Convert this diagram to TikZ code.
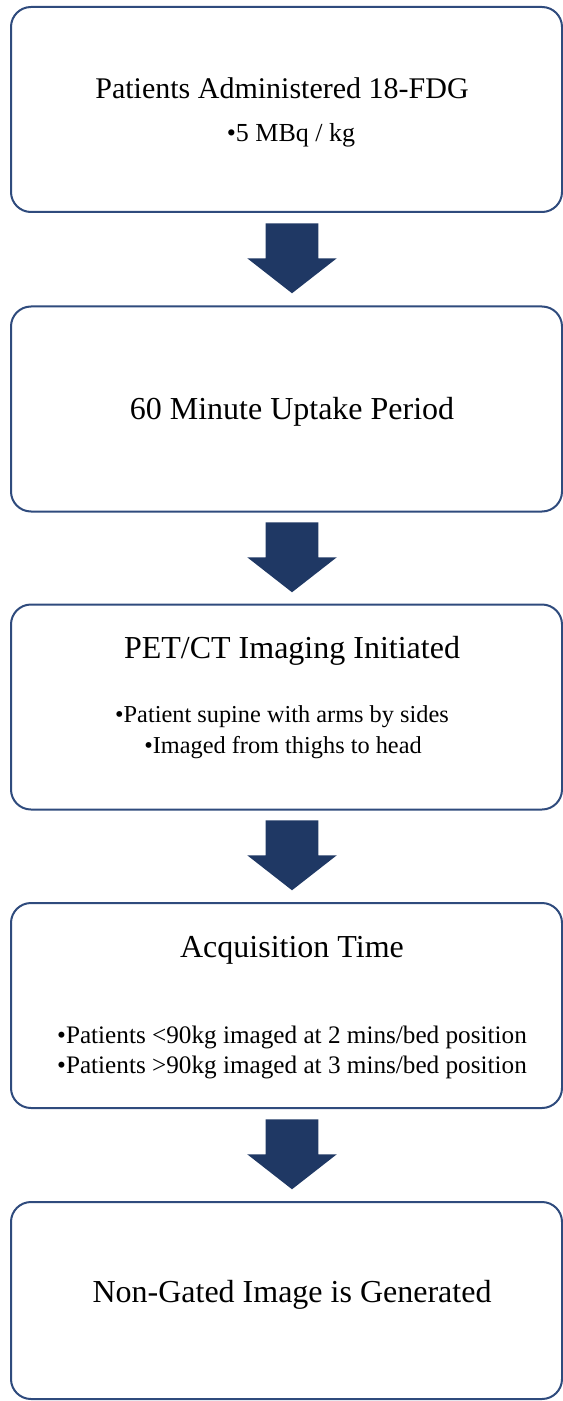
\documentclass[tikz,border=0pt]{standalone}
\usepackage{fontspec}
\setmainfont{Liberation Serif}
\usetikzlibrary{shapes.arrows}

\definecolor{boxline}{RGB}{47,75,125}
\definecolor{arrowblue}{RGB}{31,56,100}

\newcommand{\px}{0.75pt}

\tikzset{
	stepbox/.style={draw=boxline, line width=2*\px, rounded corners=20*\px, fill=white,
		minimum width=551*\px, minimum height=205*\px, inner sep=0pt},
	downarrow/.style={single arrow, fill=arrowblue, draw=none, shape border rotate=270,
		minimum height=70*\px, inner xsep=26*\px, inner ysep=0pt,
		single arrow head extend=18.5*\px, single arrow tip angle=104},
	titletext/.style={anchor=base, font=\fontsize{24}{28}\selectfont},
	bullettext/.style={anchor=base, font=\fontsize{18.9}{22}\selectfont}
}

\begin{document}
\begin{tikzpicture}[x=\px, y=-\px]
			% Marco
				\useasboundingbox (0,0) rectangle (563,1401);
			
			% Cajas
				\node[stepbox] (dose) at (286.5,109.5) {};
				\node[stepbox] (uptake) at (286.5,409) {};
				\node[stepbox] (imaging) at (286.5,707) {};
				\node[stepbox] (acq) at (286.5,1005.5) {};
				\node[stepbox, minimum height=197*\px] (result) at (286.5,1300.5) {};
			
			% Flechas
				\node[downarrow] (a1) at (292,248) {};
				\node[downarrow] (a2) at (292,547) {};
				\node[downarrow] (a3) at (292,845) {};
				\node[downarrow] (a4) at (292,1144) {};
			
			% Textos
				\node[titletext, font=\fontsize{22.5}{27}\selectfont] (doset) at (282,99) {Patients Administered 18-FDG};
				\node[bullettext, font=\fontsize{19.5}{23}\selectfont] (dosea) at (291,142) {•5 MBq / kg};
				
				\node[titletext] (uptaket) at (292,419) {60 Minute Uptake Period};
				
				\node[titletext] (imagingt) at (292,658) {PET/CT Imaging Initiated};
				\node[bullettext, font=\fontsize{18.25}{22}\selectfont] (imaginga) at (282,722) {•Patient supine with arms by sides};
				\node[bullettext, font=\fontsize{18.25}{22}\selectfont] (imagingb) at (283,753) {•Imaged from thighs to head};
				
				\node[titletext] (acqt) at (292,957) {Acquisition Time};
				\node[bullettext] (acqa) at (292,1043) {•Patients <90kg imaged at 2 mins/bed position};
				\node[bullettext] (acqb) at (292,1073) {•Patients >90kg imaged at 3 mins/bed position};
				
				\node[titletext] (resultt) at (292,1302) {Non-Gated Image is Generated};
\end{tikzpicture}
\end{document}
